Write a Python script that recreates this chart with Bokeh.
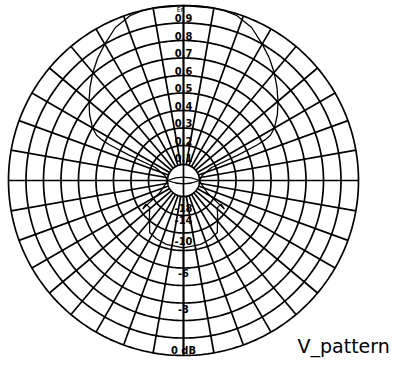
import numpy as np
from bokeh.plotting import figure
from bokeh.models import Range1d
from bokeh.core.properties import value
from bokeh.embed import file_html
from bokeh.resources import INLINE

# ---------------- data ----------------
# upper half: linear field amplitude vs angle from zenith (deg), symmetric
upper_angle = [0, 10, 14, 18, 24, 30, 35, 40, 45, 50, 55, 60, 62.5, 63.5, 64.2, 65, 65.2, 75, 90]
upper_value = [1.0, 1.0, 0.998, 0.99, 0.957, 0.90, 0.855, 0.806, 0.755, 0.705, 0.655, 0.60,
               0.56, 0.52, 0.47, 0.34, 0.177, 0.11, 0.092]
# lower half: level in dB vs angle from nadir (deg), symmetric
lower_angle = [0, 15, 25, 33, 40, 45, 49.5, 51.8, 57.8, 55, 62, 75, 90]
lower_db = [-8.3, -8.45, -8.7, -9.0, -10.4, -11.2, -11.9, -12.1, -11.9, -10.9, -16.0, -19.0, -20.8]

lin_ticks = [0.1, 0.2, 0.3, 0.4, 0.5, 0.6, 0.7, 0.8, 0.9]
lin_labels = ["0.1", "0.2", "0.3", "0.4", "0.5", "0.6", "0.7", "0.8", "0.9"]
db_ticks = [-18, -14, -10, -6, -3, 0]
db_labels = ["-18", "-14", "-10", "-6", "-3", "0 dB"]
grid_values = [0.2, 0.3, 0.4, 0.5, 0.6, 0.7, 0.8, 0.9, 1.0]
spoke_angles = list(range(0, 360, 10))
axis_title = "Er"
chart_title = "V_pattern"

# ---------------- layout ----------------
PX = 175.0          # pixels per unit amplitude
R0 = 0.0914         # inner blank circle (units)
W, H = 391, 359
cx, cy = 183.0, 180.0   # centre inside the figure (px)

p = figure(width=W, height=H, output_backend="svg", toolbar_location=None,
           x_axis_type=None, y_axis_type=None,
           x_range=Range1d(-cx / PX, (W - cx) / PX),
           y_range=Range1d(-(H - cy) / PX, cy / PX),
           min_border=0, border_fill_color="white", background_fill_color="white")
p.grid.visible = False
p.outline_line_color = None

LW = 1.7
col = "black"

# circles
t = np.linspace(0, 2 * np.pi, 361)
radii = [R0] + grid_values
p.multi_line([list(r * np.cos(t)) for r in radii], [list(r * np.sin(t)) for r in radii],
             line_color=col, line_width=LW)

# spokes
xs, ys = [], []
for a in spoke_angles:
    ar = np.radians(a)
    xs.append([R0 * np.sin(ar), np.sin(ar)])
    ys.append([R0 * np.cos(ar), np.cos(ar)])
p.multi_line(xs, ys, line_color=col, line_width=LW)

# labels
font = value("DejaVu Sans Condensed")
lab_off = 5.0 / PX
p.text(x=[0.0] * len(lin_ticks), y=[v + lab_off for v in lin_ticks], text=lin_labels,
       text_align="center", text_baseline="middle", text_font=font,
       text_font_size="11px", text_font_style="bold", text_color=col)
db_r = [10 ** (d / 20.0) for d in db_ticks]
db_y = [-(r + lab_off) if r + lab_off < 1.0 else -(r - lab_off) for r in db_r]
p.text(x=[0.0] * len(db_ticks), y=db_y, text=db_labels,
       text_align="center", text_baseline="middle", text_font=font,
       text_font_size="11px", text_font_style="bold", text_color=col)
p.text(x=[-0.3 / PX], y=[1.0], text=[axis_title], text_align="right", text_baseline="top",
       text_font=font, text_font_size="7px", text_color=col)

# vertical axis through the centre
p.line([0, 0], [-1.0, 1.0], line_color=col, line_width=LW)

# upper pattern (linear)
ua = np.radians(np.array([-a for a in upper_angle[::-1]] + upper_angle[1:]))
uv = np.array(upper_value[::-1] + upper_value[1:])
p.line(uv * np.sin(ua), uv * np.cos(ua), line_color=col, line_width=1.3)

# lower pattern (dB)
la = np.radians(np.array([-a for a in lower_angle[::-1]] + lower_angle[1:]))
ldb = np.array(lower_db[::-1] + lower_db[1:])
lr = 10 ** (ldb / 20.0)
p.line(lr * np.sin(la), -lr * np.cos(la), line_color=col, line_width=1.3)

# small lens inside the inner circle
p.quadratic(x0=[-R0, -R0], y0=[0, 0], x1=[R0, R0], y1=[0, 0], cx=[0, 0],
            cy=[0.42 * R0, -0.42 * R0], line_color=col, line_width=1.3)

# title
p.text(x=[(305 - 191) / PX], y=[(188 - 353.5) / PX], text=[chart_title], text_align="left",
       text_baseline="middle", text_font=value("DejaVu Sans"), text_font_size="19px",
       text_color=col)

open("out.html", "w").write(file_html(p, INLINE))
